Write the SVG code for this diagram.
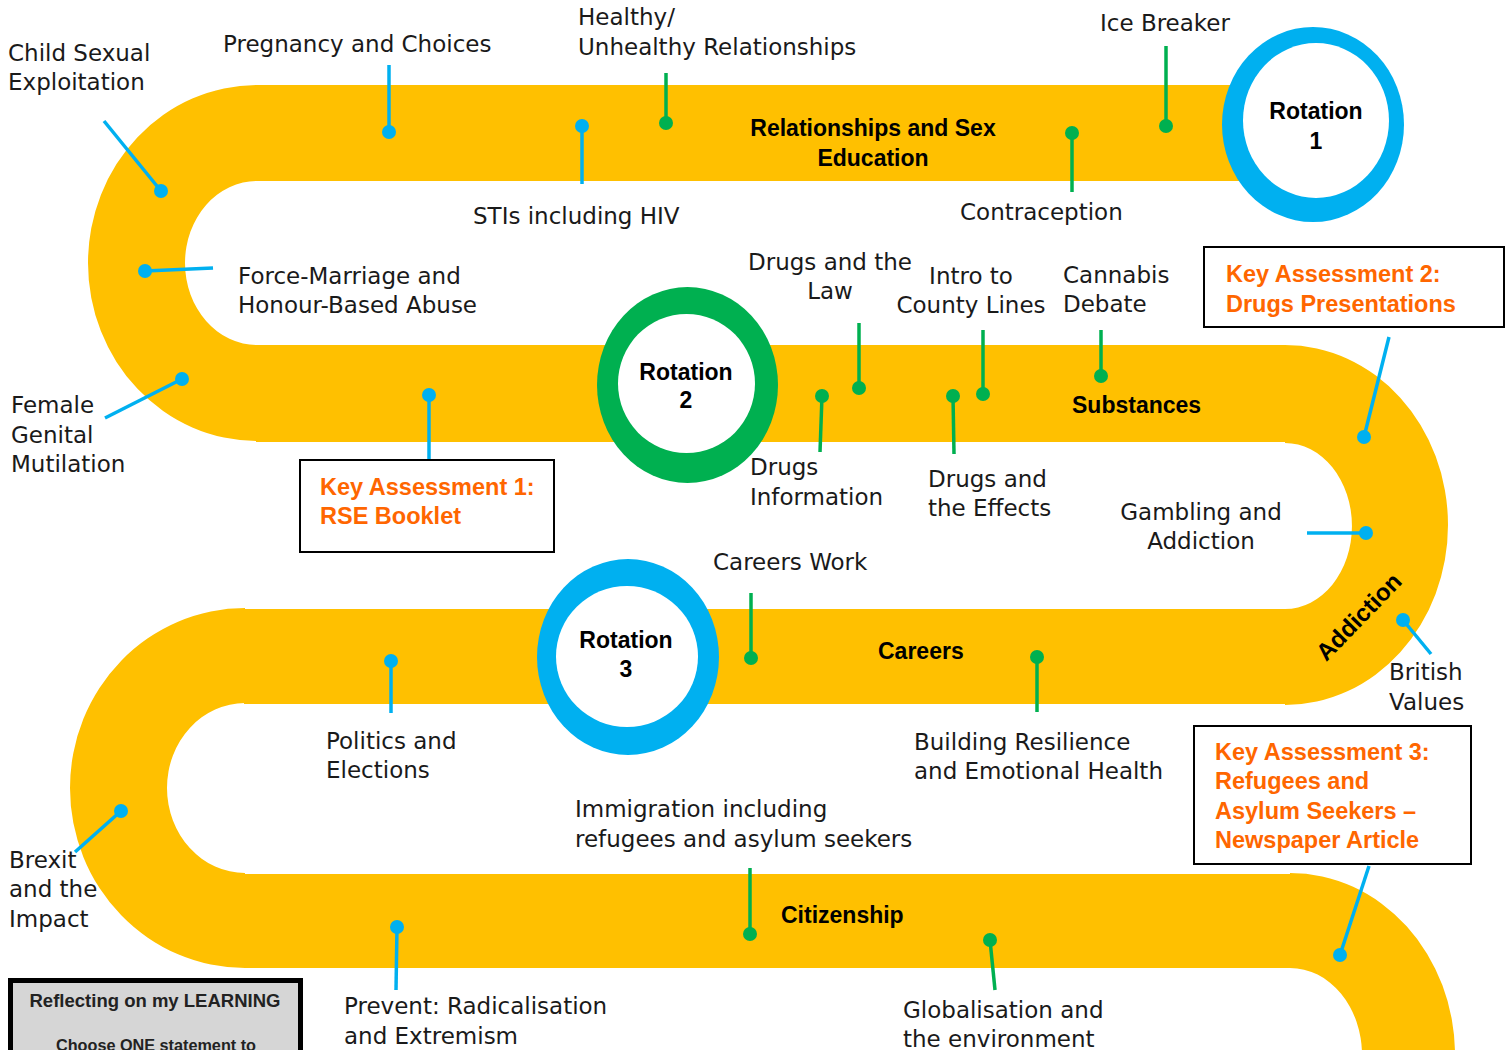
<svg xmlns="http://www.w3.org/2000/svg" width="1511" height="1050" viewBox="0 0 1511 1050">
<style>
.road{fill:#FFC000}
.t{font-family:'DejaVu Sans',sans-serif;font-size:23px;fill:#1a1a1a}
.tm{text-anchor:middle}
.b{font-family:'Liberation Sans',Arial,sans-serif;font-weight:bold;font-size:23px;fill:#000}
.k{font-family:'Liberation Sans',Arial,sans-serif;font-weight:bold;font-size:23.5px;fill:#FF6600}
.box{fill:#fff;stroke:#000;stroke-width:2}
.pb{stroke:#00B0F0;stroke-width:3.5;fill:none}
.pg{stroke:#00B050;stroke-width:3.5;fill:none}
.db{fill:#00B0F0}
.dg{fill:#00B050}
</style>
<rect width="1511" height="1050" fill="#fff"/>
<g id="road">
<rect class="road" x="256" y="85" width="990" height="96"/>
<path class="road" d="M257,85 A169,178 0 0 0 257,441 L257,345 A72,82 0 0 1 257,181 Z"/>
<rect class="road" x="256" y="345" width="1030" height="97"/>
<path class="road" d="M1285,345 A163,180 0 0 1 1285,705 L1285,609 A67,83 0 0 0 1285,443 Z"/>
<rect class="road" x="244" y="609" width="1042" height="95"/>
<path class="road" d="M245,608 A175,180 0 0 0 245,968 L245,873 A78,85 0 0 1 245,703 Z"/>
<rect class="road" x="244" y="874" width="1047" height="94"/>
<path class="road" d="M1290,873 A165,182 0 0 1 1455,1055 L1362,1055 A72,87 0 0 0 1290,968 Z"/>
</g>
<g id="rotation1">
<ellipse cx="1313" cy="124.5" rx="91" ry="97.5" fill="#00B0F0"/>
<ellipse cx="1316" cy="120.5" rx="73" ry="77.5" fill="#fff"/>
<text class="b tm" x="1316" y="119">Rotation</text>
<text class="b tm" x="1316" y="149">1</text>
</g>
<g id="rotation2">
<ellipse cx="687.5" cy="385" rx="90.5" ry="98" fill="#00B050"/>
<ellipse cx="686.5" cy="383.5" rx="68.5" ry="69.5" fill="#fff"/>
<text class="b tm" x="686" y="380">Rotation</text>
<text class="b tm" x="686" y="408">2</text>
</g>
<g id="rotation3">
<ellipse cx="628" cy="657" rx="91" ry="98" fill="#00B0F0"/>
<ellipse cx="627" cy="656.5" rx="71" ry="70.5" fill="#fff"/>
<text class="b tm" x="626" y="648">Rotation</text>
<text class="b tm" x="626" y="677">3</text>
</g>
<g id="connectors">
<line class="pb" x1="104" y1="121" x2="161" y2="191"/><circle class="db" cx="161" cy="191" r="7"/>
<line class="pb" x1="389" y1="65" x2="389" y2="132"/><circle class="db" cx="389" cy="132" r="7"/>
<line class="pg" x1="666" y1="73" x2="666" y2="123"/><circle class="dg" cx="666" cy="123" r="7"/>
<line class="pb" x1="582" y1="126" x2="582" y2="184"/><circle class="db" cx="582" cy="126" r="7"/>
<line class="pg" x1="1166" y1="46" x2="1166" y2="126"/><circle class="dg" cx="1166" cy="126" r="7"/>
<line class="pg" x1="1072" y1="133" x2="1072" y2="192"/><circle class="dg" cx="1072" cy="133" r="7"/>
<line class="pb" x1="213" y1="268" x2="145" y2="271"/><circle class="db" cx="145" cy="271" r="7"/>
<line class="pb" x1="105" y1="418" x2="182" y2="379"/><circle class="db" cx="182" cy="379" r="7"/>
<line class="pb" x1="429" y1="395" x2="429" y2="468"/><circle class="db" cx="429" cy="395" r="7"/>
<line class="pg" x1="859" y1="323" x2="859" y2="388"/><circle class="dg" cx="859" cy="388" r="7"/>
<line class="pg" x1="822" y1="396" x2="820" y2="452"/><circle class="dg" cx="822" cy="396" r="7"/>
<line class="pg" x1="983" y1="330" x2="983" y2="394"/><circle class="dg" cx="983" cy="394" r="7"/>
<line class="pg" x1="953" y1="396" x2="954" y2="454"/><circle class="dg" cx="953" cy="396" r="7"/>
<line class="pg" x1="1101" y1="330" x2="1101" y2="376"/><circle class="dg" cx="1101" cy="376" r="7"/>
<line class="pb" x1="1389" y1="337" x2="1364" y2="437"/><circle class="db" cx="1364" cy="437" r="7"/>
<line class="pb" x1="1307" y1="533" x2="1366" y2="533"/><circle class="db" cx="1366" cy="533" r="7"/>
<line class="pb" x1="1403" y1="620" x2="1431" y2="654"/><circle class="db" cx="1403" cy="620" r="7"/>
<line class="pg" x1="751" y1="593" x2="751" y2="658"/><circle class="dg" cx="751" cy="658" r="7"/>
<line class="pb" x1="391" y1="661" x2="391" y2="713"/><circle class="db" cx="391" cy="661" r="7"/>
<line class="pg" x1="1037" y1="657" x2="1037" y2="712"/><circle class="dg" cx="1037" cy="657" r="7"/>
<line class="pg" x1="750" y1="868" x2="750" y2="934"/><circle class="dg" cx="750" cy="934" r="7"/>
<line class="pb" x1="121" y1="811" x2="75" y2="852"/><circle class="db" cx="121" cy="811" r="7"/>
<line class="pb" x1="397" y1="927" x2="396" y2="990"/><circle class="db" cx="397" cy="927" r="7"/>
<line class="pg" x1="990" y1="940" x2="995" y2="990"/><circle class="dg" cx="990" cy="940" r="7"/>
<line class="pb" x1="1369" y1="866" x2="1340" y2="955"/><circle class="db" cx="1340" cy="955" r="7"/>
</g>
<g id="cse"><text class="t" x="8" y="61">Child Sexual</text><text class="t" x="8" y="90">Exploitation</text></g>
<g id="pregnancy"><text class="t" x="223" y="52">Pregnancy and Choices</text></g>
<g id="healthy"><text class="t" x="578" y="25">Healthy/</text><text class="t" x="578" y="55">Unhealthy Relationships</text></g>
<g id="stis"><text class="t" x="473" y="224">STIs including HIV</text></g>
<g id="icebreaker"><text class="t" x="1100" y="31">Ice Breaker</text></g>
<g id="contraception"><text class="t" x="960" y="220">Contraception</text></g>
<g id="rse"><text class="b tm" x="873" y="136">Relationships and Sex</text><text class="b tm" x="873" y="166">Education</text></g>
<g id="forced"><text class="t" x="238" y="284">Force-Marriage and</text><text class="t" x="238" y="313">Honour-Based Abuse</text></g>
<g id="fgm"><text class="t" x="11" y="413">Female</text><text class="t" x="11" y="443">Genital</text><text class="t" x="11" y="472">Mutilation</text></g>
<g id="ka1"><rect class="box" x="300" y="460" width="254" height="92"/><text class="k" x="320" y="495">Key Assessment 1:</text><text class="k" x="320" y="524">RSE Booklet</text></g>
<g id="drugslaw"><text class="t tm" x="830" y="270">Drugs and the</text><text class="t tm" x="830" y="299">Law</text></g>
<g id="drugsinfo"><text class="t" x="750" y="475">Drugs</text><text class="t" x="750" y="505">Information</text></g>
<g id="county"><text class="t tm" x="971" y="284">Intro to</text><text class="t tm" x="971" y="313">County Lines</text></g>
<g id="effects"><text class="t" x="928" y="487">Drugs and</text><text class="t" x="928" y="516">the Effects</text></g>
<g id="cannabis"><text class="t" x="1063" y="283">Cannabis</text><text class="t" x="1063" y="312">Debate</text></g>
<g id="substances"><text class="b" x="1072" y="413">Substances</text></g>
<g id="ka2"><rect class="box" x="1204" y="247" width="300" height="80"/><text class="k" x="1226" y="282">Key Assessment 2:</text><text class="k" x="1226" y="312">Drugs Presentations</text></g>
<g id="gambling"><text class="t tm" x="1201" y="520">Gambling and</text><text class="t tm" x="1201" y="549">Addiction</text></g>
<g id="addiction"><text class="b tm" style="font-size:24px" transform="translate(1359,617) rotate(-46)" x="0" y="8">Addiction</text></g>
<g id="british"><text class="t" x="1389" y="680">British</text><text class="t" x="1389" y="710">Values</text></g>
<g id="careerswork"><text class="t" x="713" y="570">Careers Work</text></g>
<g id="careers"><text class="b" x="878" y="659">Careers</text></g>
<g id="politics"><text class="t" x="326" y="749">Politics and</text><text class="t" x="326" y="778">Elections</text></g>
<g id="resilience"><text class="t" x="914" y="750">Building Resilience</text><text class="t" x="914" y="779">and Emotional Health</text></g>
<g id="immigration"><text class="t" x="575" y="817">Immigration including</text><text class="t" x="575" y="847">refugees and asylum seekers</text></g>
<g id="brexit"><text class="t" x="9" y="868">Brexit</text><text class="t" x="9" y="897">and the</text><text class="t" x="9" y="927">Impact</text></g>
<g id="citizenship"><text class="b" x="781" y="923">Citizenship</text></g>
<g id="prevent"><text class="t" x="344" y="1014">Prevent: Radicalisation</text><text class="t" x="344" y="1044">and Extremism</text></g>
<g id="globalisation"><text class="t" x="903" y="1018">Globalisation and</text><text class="t" x="903" y="1047">the environment</text></g>
<g id="ka3"><rect class="box" x="1194" y="726" width="277" height="138"/><text class="k" x="1215" y="760">Key Assessment 3:</text><text class="k" x="1215" y="789">Refugees and</text><text class="k" x="1215" y="819">Asylum Seekers –</text><text class="k" x="1215" y="848">Newspaper Article</text></g>
<g id="reflecting"><rect x="10.5" y="980.5" width="290" height="80" fill="#D6D6D6" stroke="#000" stroke-width="5"/><text x="155" y="1007" text-anchor="middle" style="font-family:'Liberation Sans',Arial,sans-serif;font-weight:bold;font-size:18px;fill:#222" textLength="251" lengthAdjust="spacingAndGlyphs">Reflecting on my LEARNING</text><text x="156" y="1051" text-anchor="middle" style="font-family:'Liberation Sans',Arial,sans-serif;font-weight:bold;font-size:16px;fill:#222" textLength="200" lengthAdjust="spacingAndGlyphs">Choose ONE statement to</text></g>
</svg>
